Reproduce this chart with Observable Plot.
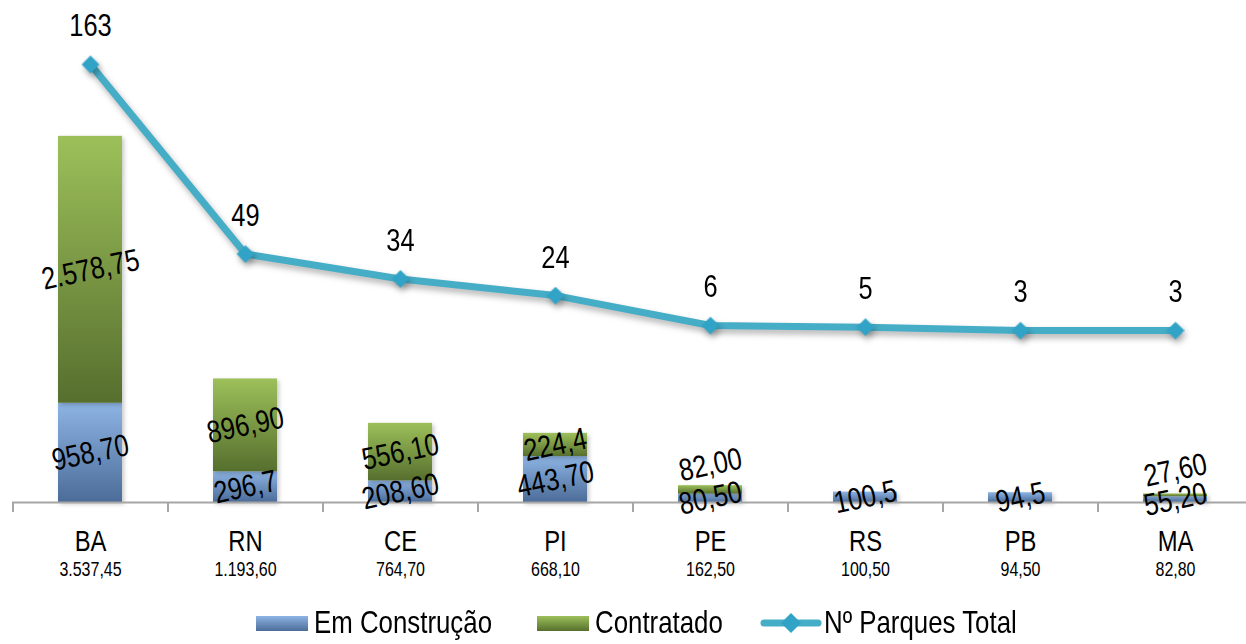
<!DOCTYPE html>
<html>
<head>
<meta charset="utf-8">
<script src="https://cdn.jsdelivr.net/npm/d3@7"></script>
<script src="https://cdn.jsdelivr.net/npm/@observablehq/plot@0.6"></script>
<style>
  html, body { margin: 0; padding: 0; background: #ffffff; }
  body { font-family: "Liberation Sans", Arial, sans-serif; }
  #wrap { position: relative; width: 1246px; height: 600px; }
  #wrap svg { position: absolute; left: 0; top: 0; overflow: visible; }
  #legend { position: relative; width: 1246px; height: 44px; }
  .item { position: absolute; top: 0; height: 44px; display: flex; align-items: center; font-size: 31.5px; color: #000; white-space: nowrap; }
  .sw { width: 52px; height: 15px; margin-right: 6px; margin-top: 2px; flex: none; }
  .lbl { display: inline-block; transform: scaleX(0.82); transform-origin: left center; }
</style>
</head>
<body>
<div id="wrap"></div>
<div id="legend"></div>
<script>
// ---- data ----
const states = ["BA", "RN", "CE", "PI", "PE", "RS", "PB", "MA"];
const emConstrucao = [958.70, 296.7, 208.60, 443.70, 80.50, 100.5, 94.5, 55.20];
const contratado = [2578.75, 896.90, 556.10, 224.4, 82.00, 0, 0, 27.60];
const parquesTotal = [163, 49, 34, 24, 6, 5, 3, 3];
const totalLabels = ["3.537,45", "1.193,60", "764,70", "668,10", "162,50", "100,50", "94,50", "82,80"];
const emLabels = ["958,70", "296,7", "208,60", "443,70", "80,50", "100,5", "94,5", "55,20"];
const contLabels = ["2.578,75", "896,90", "556,10", "224,4", "82,00", "", "", "27,60"];
const seriesNames = ["Em Construção", "Contratado", "Nº Parques Total"];

const rows = states.map((s, i) => ({
  state: s, em: emConstrucao[i], cont: contratado[i], parques: parquesTotal[i],
  total: totalLabels[i], emLabel: emLabels[i], contLabel: contLabels[i]
}));
const contRows = rows.filter(d => d.cont > 0);

const FONT = '"Liberation Sans", Arial, sans-serif';
const NARROW = 0.82; // emulate a narrow face
const W = 1246, H = 600;
const xOpts = { type: "band", domain: states, range: [12, 1252], paddingInner: 0.59, paddingOuter: 0.295, axis: null };
const axisGray = "#a6a6a6";

// ---- bars chart ----
const bars = Plot.plot({
  width: W, height: H,
  marginLeft: 12, marginRight: 0, marginTop: 0, marginBottom: 0,
  style: { fontFamily: FONT, background: "transparent", overflow: "visible" },
  x: xOpts,
  y: { domain: [0, 4000], range: [502, 88], axis: null },
  marks: [
    Plot.barY(rows, { x: "state", y1: () => 0, y2: "em", fill: "url(#gBlue)" }),
    Plot.barY(contRows, { x: "state", y1: "em", y2: d => d.em + d.cont, fill: "url(#gGreen)" }),
    Plot.ruleY([0], { stroke: axisGray, strokeWidth: 2 }),
    Plot.ruleX(rows, { x: "state", dx: -77.5, y1: () => 0, y2: () => -97, stroke: axisGray, strokeWidth: 2 }),
    // value labels
    Plot.text(rows, { x: "state", y: d => d.em / 2, text: "emLabel", rotate: -12, fontSize: 31, fill: "#000" }),
    Plot.text(contRows, { x: "state", y: d => d.em + d.cont / 2, text: "contLabel", rotate: -12, fontSize: 31, fill: "#000" }),
    // category labels & totals
    Plot.text(rows, { x: "state", y: () => 0, dy: 39, text: "state", fontSize: 29, fill: "#000" }),
    Plot.text(rows, { x: "state", y: () => 0, dy: 67, text: "total", fontSize: 19.5, fill: "#000" })
  ]
});

// labels of tiny "Contratado" segments sit above the bar
d3.select(bars).selectAll("g[aria-label='text']").filter((d, i) => i === 1)
  .selectAll("text").each(function (d, j) {
    const r = contRows[j];
    if (r && r.cont < 100) {
      const t = d3.select(this);
      t.attr("transform", (t.attr("transform") || "").replace(/rotate\(/, "translate(0,-25) rotate("));
    }
  });

// gradients
const defs = d3.select(bars).insert("defs", ":first-child");
const gB = defs.append("linearGradient").attr("id", "gBlue").attr("x1", 0).attr("y1", 0).attr("x2", 0).attr("y2", 1);
gB.append("stop").attr("offset", "0%").attr("stop-color", "#8db4e4");
gB.append("stop").attr("offset", "100%").attr("stop-color", "#4c6c98");
const gG = defs.append("linearGradient").attr("id", "gGreen").attr("x1", 0).attr("y1", 0).attr("x2", 0).attr("y2", 1);
gG.append("stop").attr("offset", "0%").attr("stop-color", "#9dc05a");
gG.append("stop").attr("offset", "100%").attr("stop-color", "#566f2e");
d3.select(bars).selectAll("g[aria-label='bar']").style("filter", "drop-shadow(2px 2px 2px rgba(0,0,0,0.22))");

// ---- line chart overlay ----
const line = Plot.plot({
  width: W, height: H,
  marginLeft: 12, marginRight: 0, marginTop: 0, marginBottom: 0,
  style: { fontFamily: FONT, background: "transparent", overflow: "visible" },
  x: xOpts,
  y: { domain: [0, 163], range: [335, 64], axis: null },
  marks: [
    Plot.line(rows, { x: "state", y: "parques", stroke: "#46adc7", strokeWidth: 7, strokeLinejoin: "miter", strokeLinecap: "butt" }),
    Plot.dot(rows, { x: "state", y: "parques", symbol: "diamond2", r: 8, fill: "#30a3c6", stroke: "none" }),
    Plot.text(rows, { x: "state", y: "parques", text: d => String(d.parques), dy: -38, fontSize: 31, fill: "#000" })
  ]
});
d3.select(line).selectAll("g[aria-label='line'], g[aria-label='dot']").style("filter", "drop-shadow(2px 4px 3px rgba(0,0,0,0.3))");

const wrap = document.getElementById("wrap");
wrap.appendChild(bars);
wrap.appendChild(line);

// condense all chart texts horizontally (narrow face look) without touching positions
d3.selectAll("#wrap text").each(function () {
  const w = this.getComputedTextLength();
  if (w > 0) {
    this.setAttribute("textLength", (w * NARROW).toFixed(2));
    this.setAttribute("lengthAdjust", "spacingAndGlyphs");
  }
});

// ---- legend ----
const legend = document.getElementById("legend");
const items = [
  { left: 256, html: `<div class="sw" style="background:linear-gradient(#8db4e4,#4c6c98)"></div><span class="lbl">${seriesNames[0]}</span>` },
  { left: 537, html: `<div class="sw" style="background:linear-gradient(#9dc05a,#566f2e)"></div><span class="lbl">${seriesNames[1]}</span>` },
  { left: 760, html: `<svg width="62" height="24" style="margin-right:2px;margin-top:2px;flex:none"><line x1="4" y1="12" x2="58" y2="12" stroke="#46adc7" stroke-width="7" stroke-linecap="round"/><path d="M31,2 L41,12 L31,22 L21,12 Z" fill="#30a3c6"/></svg><span class="lbl">${seriesNames[2]}</span>` }
];
items.forEach(it => {
  const d = document.createElement("div");
  d.className = "item";
  d.style.left = it.left + "px";
  d.innerHTML = it.html;
  legend.appendChild(d);
});
</script>
</body>
</html>
